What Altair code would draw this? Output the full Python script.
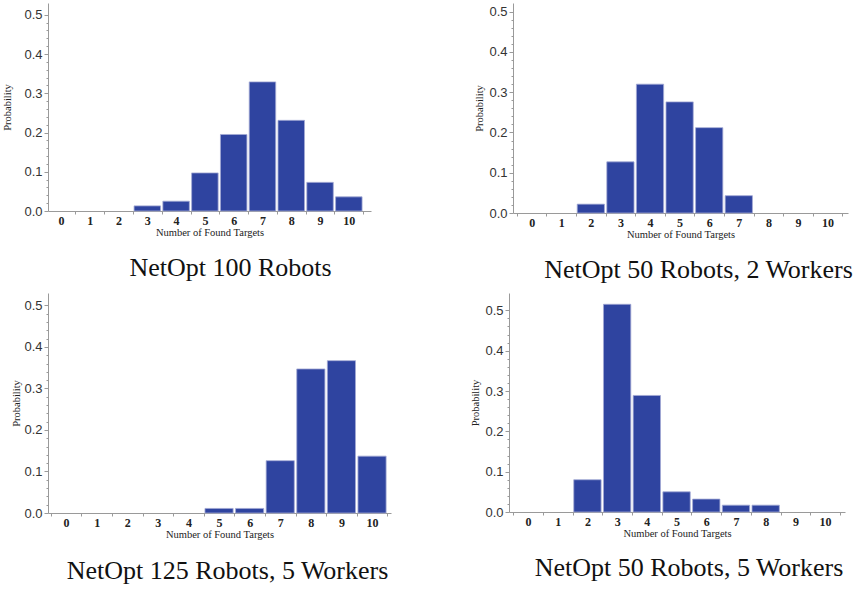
import altair as alt
import pandas as pd

# Number of found targets (0-10) and the probability of each outcome
targets = list(range(11))
p_100_robots = [0, 0, 0, 0.013, 0.025, 0.097, 0.195, 0.329, 0.231, 0.073, 0.036]
p_50_robots_2_workers = [0, 0, 0.022, 0.127, 0.320, 0.276, 0.212, 0.043, 0, 0, 0]
p_125_robots_5_workers = [0, 0, 0, 0, 0, 0.011, 0.011, 0.126, 0.347, 0.367, 0.137]
p_50_robots_5_workers = [0, 0, 0.080, 0.515, 0.289, 0.050, 0.032, 0.017, 0.017, 0, 0]

captions = [
    "NetOpt 100 Robots",
    "NetOpt 50 Robots, 2 Workers",
    "NetOpt 125 Robots, 5 Workers",
    "NetOpt 50 Robots, 5 Workers",
]

BAR = "#2F44A0"
EDGE = "#A3A9D4"
AXIS = "#9A9A9A"
SERIF = "Liberation Serif"
SANS = "Liberation Sans"

x_ticks = [i / 2 for i in range(-1, 22)]          # -0.5 .. 10.5
y_ticks = [round(i * 0.02, 2) for i in range(26)]  # 0.00 .. 0.50


def panel(probs, caption, width, height, ymax, xmin, xmax, ytitle_pad, cap_dx, cap_offset):
    df = pd.DataFrame({"n": targets, "p": probs})
    return (
        alt.Chart(df)
        .transform_filter("datum.p > 0")
        .transform_calculate(left="datum.n - 0.46", right="datum.n + 0.46")
        .mark_bar(color=BAR, stroke=EDGE, strokeWidth=0.8)
        .encode(
            x=alt.X(
                "left:Q",
                scale=alt.Scale(domain=[xmin, xmax], nice=False, zero=False),
                axis=alt.Axis(
                    title="Number of Found Targets",
                    titleFont=SERIF,
                    titleFontSize=10.5,
                    titleFontWeight="normal",
                    titleColor="#222",
                    titlePadding=1,
                    values=x_ticks,
                    labelExpr="datum.value % 1 == 0 ? format(datum.value, 'd') : ''",
                    labelFont=SERIF,
                    labelFontWeight="bold",
                    labelFontSize=12,
                    labelColor="#222",
                    labelPadding=1,
                    labelOverlap=False,
                    labelFlush=False,
                    grid=False,
                    domainColor=AXIS,
                    tickColor=AXIS,
                    tickSize=3,
                    tickOpacity={"condition": {"test": "datum.value % 1 == 0", "value": 0}, "value": 1},
                ),
            ),
            x2="right:Q",
            y=alt.Y(
                "p:Q",
                scale=alt.Scale(domain=[0, ymax], nice=False),
                axis=alt.Axis(
                    title="Probability",
                    titleFont=SERIF,
                    titleFontSize=10.5,
                    titleFontWeight="normal",
                    titleColor="#222",
                    titlePadding=ytitle_pad,
                    values=y_ticks,
                    labelExpr="abs(round(datum.value * 100) % 10) < 0.5 ? format(datum.value, '.1f') : ''",
                    labelFont=SANS,
                    labelFontSize=13,
                    labelColor="#333",
                    labelPadding=2,
                    labelOverlap=False,
                    labelFlush=False,
                    grid=False,
                    domainColor=AXIS,
                    tickColor=AXIS,
                    tickSize={"condition": {"test": "abs(round(datum.value * 100) % 10) < 0.5", "value": 4}, "value": 2},
                ),
            ),
            y2=alt.datum(0),
        )
        .properties(
            width=width,
            height=height,
            title=alt.TitleParams(
                caption,
                orient="bottom",
                anchor="middle",
                frame="group",
                font=SERIF,
                fontSize=26,
                fontWeight="normal",
                color="#111",
                dx=cap_dx,
                offset=cap_offset,
            ),
        )
    )


p1 = panel(p_100_robots, captions[0], 323, 208, 0.53, -0.45, 10.77, 11, 21, 17)
p2 = panel(p_50_robots_2_workers, captions[1], 335, 210, 0.5216, -0.63, 10.69, 4, 18, 17)
p3 = panel(p_125_robots_5_workers, captions[2], 343, 220, 0.53, -0.59, 10.62, 2, 8, 18)
p4 = panel(p_50_robots_5_workers, captions[3], 336, 219, 0.543, -0.64, 10.67, 4, 12, 16)

top = alt.hconcat(p1, p2, spacing=102)
bottom = alt.hconcat(p3, p4, spacing=78)

chart = (
    alt.vconcat(top, bottom, spacing=9)
    .properties(
        padding={"left": 2, "top": 2, "right": 0, "bottom": 0},
        background="white",
    )
    .configure_view(stroke="transparent")
)

chart.save("out.html", embed_options={"renderer": "svg", "actions": False})
